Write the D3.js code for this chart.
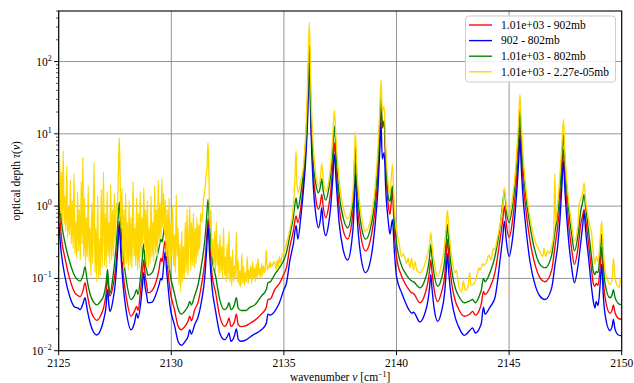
<!DOCTYPE html>
<html><head><meta charset="utf-8">
<script src="https://cdn.jsdelivr.net/npm/d3@7"></script>
<style>
html,body{margin:0;padding:0;background:#fff;}
</style></head>
<body><svg id="c" width="634" height="383" font-family="'Liberation Serif', 'DejaVu Serif', serif"></svg>
<script>
// ---------------- data ----------------
const legendLabels = ["1.01e+03 - 902mb", "902 - 802mb", "1.01e+03 - 802mb", "1.01e+03 - 2.27e-05mb"];
const xTicks = [2125, 2130, 2135, 2140, 2145, 2150];
const yTickExps = [-2, -1, 0, 1, 2];

// shared wavenumber grid for the three smoother layers
const nuMain = [
 2125.00,2125.10,2125.28,2125.50,2125.72,2125.85,2125.95,2126.08,2126.17,2126.26,
 2126.40,2126.55,2126.69,2126.85,2127.00,2127.10,2127.17,2127.23,2127.28,2127.40,
 2127.52,2127.62,2127.69,2127.76,2127.87,2128.00,2128.21,2128.36,2128.46,2128.52,
 2128.64,2128.72,2128.77,2128.84,2128.90,2128.96,2129.15,2129.30,2129.45,2129.54,
 2129.59,2129.66,2129.72,2129.80,2129.94,2130.15,2130.30,2130.44,2130.62,2130.75,
 2130.82,2130.89,2131.04,2131.20,2131.35,2131.48,2131.57,2131.63,2131.70,2131.80,
 2131.97,2132.15,2132.37,2132.50,2132.56,2132.65,2132.80,2132.89,2132.97,2133.10,
 2133.30,2133.50,2133.70,2134.00,2134.22,2134.29,2134.40,2134.59,2134.80,2135.00,
 2135.11,2135.27,2135.42,2135.54,2135.62,2135.75,2135.87,2135.97,2136.05,2136.13,
 2136.20,2136.30,2136.42,2136.53,2136.62,2136.68,2136.75,2136.86,2136.98,2137.08,
 2137.17,2137.24,2137.32,2137.45,2137.62,2137.83,2138.00,2138.10,2138.17,2138.25,
 2138.40,2138.63,2138.85,2139.05,2139.18,2139.26,2139.31,2139.37,2139.45,2139.53,
 2139.64,2139.71,2139.82,2139.90,2140.00,2140.23,2140.38,2140.55,2140.68,2140.75,
 2141.04,2141.26,2141.40,2141.47,2141.52,2141.58,2141.68,2141.83,2142.00,2142.14,
 2142.21,2142.26,2142.32,2142.45,2142.62,2142.75,2143.01,2143.25,2143.38,2143.50,
 2143.70,2143.77,2143.86,2143.93,2144.15,2144.37,2144.59,2144.72,2144.79,2144.88,
 2145.00,2145.15,2145.28,2145.38,2145.44,2145.48,2145.54,2145.62,2145.70,2145.93,
 2146.15,2146.35,2146.60,2146.89,2147.04,2147.15,2147.25,2147.34,2147.41,2147.48,
 2147.63,2147.78,2147.90,2148.07,2148.18,2148.27,2148.33,2148.40,2148.53,2148.65,
 2148.74,2148.81,2148.87,2148.95,2149.04,2149.11,2149.18,2149.26,2149.48,2149.58,
 2149.63,2149.70,2149.85,2150.00
];
// 1.01e+03 - 902mb (red)
const tauRed = [
 1.30,0.43,0.19,0.096,0.063,0.058,0.056,0.068,0.087,0.062,
 0.038,0.029,0.0263,0.030,0.040,0.060,0.107,0.065,0.057,0.075,
 0.13,0.32,0.62,0.30,0.11,0.055,0.030,0.035,0.041,0.036,
 0.070,0.12,0.18,0.11,0.085,0.063,0.068,0.085,0.13,0.19,
 0.17,0.25,0.33,0.18,0.070,0.036,0.022,0.0195,0.022,0.026,
 0.030,0.026,0.037,0.048,0.085,0.16,0.35,0.67,0.32,0.12,
 0.063,0.030,0.0217,0.025,0.0285,0.0217,0.025,0.032,0.023,0.0215,
 0.0220,0.024,0.0263,0.032,0.040,0.051,0.052,0.070,0.085,0.115,
 0.14,0.28,0.45,0.73,0.59,0.95,2.2,6,20,135,
 16,3,1.25,0.90,1.10,1.45,0.95,0.69,0.95,1.6,
 3.6,7.5,3.3,1.0,0.48,0.35,0.55,1.15,4.0,1.2,
 0.42,0.24,0.35,0.9,2.8,9,21.8,12,15,3.0,
 1.0,0.77,1.6,0.45,0.20,0.107,0.085,0.070,0.063,0.062,
 0.046,0.060,0.09,0.13,0.18,0.12,0.068,0.048,0.065,0.11,
 0.22,0.35,0.20,0.085,0.048,0.038,0.030,0.032,0.035,0.031,
 0.038,0.045,0.066,0.060,0.075,0.12,0.33,0.65,1.0,0.55,
 0.37,0.62,1.5,3.6,7.5,12.8,5.5,2.2,1.2,0.33,
 0.156,0.105,0.09,0.13,0.28,0.5,1.0,2.8,6.1,2.5,
 0.62,0.25,0.156,0.28,0.56,0.75,0.9,0.65,0.30,0.14,
 0.085,0.078,0.085,0.08,0.14,0.27,0.10,0.055,0.033,0.037,
 0.043,0.034,0.028,0.027
];
// 902 - 802mb (blue)
const tauBlue = [
 0.60,0.25,0.105,0.055,0.040,0.039,0.037,0.045,0.054,0.038,
 0.024,0.018,0.0165,0.019,0.027,0.040,0.070,0.042,0.035,0.048,
 0.090,0.25,0.55,0.22,0.075,0.035,0.0195,0.024,0.033,0.028,
 0.045,0.080,0.12,0.075,0.060,0.046,0.047,0.058,0.080,0.100,
 0.095,0.15,0.23,0.12,0.042,0.022,0.0135,0.0119,0.0135,0.016,
 0.0196,0.017,0.023,0.030,0.050,0.10,0.25,0.55,0.22,0.080,
 0.035,0.0176,0.0142,0.016,0.0176,0.0135,0.016,0.020,0.0145,0.0135,
 0.0140,0.0155,0.0170,0.0195,0.024,0.032,0.031,0.035,0.046,0.070,
 0.085,0.18,0.30,0.54,0.35,0.70,1.7,4.5,15,110,
 12,2.0,0.75,0.50,0.65,0.95,0.55,0.39,0.55,1.0,
 2.4,5.2,2.2,0.6,0.26,0.18,0.30,0.70,2.75,0.75,
 0.22,0.12,0.18,0.55,1.8,6,14.3,4.5,5.5,1.5,
 0.59,0.41,0.65,0.25,0.107,0.063,0.048,0.037,0.033,0.034,
 0.025,0.033,0.05,0.075,0.113,0.07,0.037,0.0255,0.035,0.065,
 0.13,0.22,0.12,0.05,0.028,0.0217,0.0163,0.019,0.0207,0.0176,
 0.021,0.0242,0.040,0.032,0.040,0.054,0.17,0.38,0.62,0.32,
 0.20,0.35,0.9,2.4,5,8.9,3.5,1.3,0.69,0.17,
 0.082,0.058,0.051,0.074,0.156,0.27,0.6,1.8,4.2,1.6,
 0.37,0.14,0.087,0.16,0.31,0.55,0.81,0.45,0.19,0.08,
 0.048,0.039,0.048,0.042,0.08,0.156,0.06,0.032,0.019,0.022,
 0.027,0.020,0.0165,0.016
];
// 1.01e+03 - 802mb (green)
const tauGreen = [
 2.30,0.73,0.31,0.165,0.107,0.095,0.092,0.11,0.145,0.095,
 0.060,0.047,0.043,0.048,0.058,0.085,0.133,0.075,0.062,0.100,
 0.22,0.55,1.14,0.50,0.20,0.095,0.051,0.058,0.070,0.060,
 0.11,0.20,0.30,0.16,0.133,0.11,0.12,0.165,0.26,0.35,
 0.32,0.43,0.56,0.30,0.12,0.060,0.038,0.032,0.036,0.042,
 0.048,0.043,0.058,0.085,0.16,0.32,0.70,1.24,0.55,0.20,
 0.107,0.051,0.037,0.041,0.046,0.037,0.043,0.054,0.039,0.036,
 0.036,0.040,0.043,0.057,0.070,0.087,0.09,0.113,0.14,0.18,
 0.226,0.40,0.70,1.30,0.92,1.5,3.0,8,28,170,
 20,4.2,2.0,1.53,1.85,2.4,1.6,1.21,1.65,2.7,
 6,12.8,5,1.5,0.72,0.50,0.78,1.7,6.8,1.9,
 0.62,0.35,0.50,1.3,4.5,15,35,13,15,4.0,
 1.3,1.17,1.9,0.65,0.31,0.148,0.120,0.100,0.092,0.090,
 0.074,0.095,0.14,0.20,0.295,0.19,0.11,0.078,0.10,0.18,
 0.35,0.56,0.32,0.13,0.072,0.058,0.046,0.049,0.051,0.046,
 0.060,0.070,0.10,0.090,0.12,0.20,0.50,1.1,1.65,0.85,
 0.59,1.0,2.4,6,12,21.8,9,3.5,1.8,0.53,
 0.24,0.16,0.14,0.21,0.45,0.75,1.6,4.5,9.8,4,
 1.0,0.40,0.24,0.42,0.85,1.15,1.45,0.95,0.45,0.21,
 0.125,0.113,0.125,0.12,0.22,0.41,0.16,0.085,0.054,0.060,
 0.070,0.055,0.045,0.043
];
// 1.01e+03 - 2.27e-05mb (gold)
const nuGold = [
 2125.00,2125.04,2125.08,2125.12,2125.16,2125.20,2125.24,2125.28,2125.32,2125.36,
 2125.40,2125.44,2125.48,2125.52,2125.56,2125.60,2125.64,2125.68,2125.72,2125.76,
 2125.80,2125.84,2125.88,2125.92,2125.96,2126.00,2126.04,2126.07,2126.11,2126.15,
 2126.19,2126.23,2126.27,2126.31,2126.35,2126.39,2126.43,2126.47,2126.51,2126.57,
 2126.61,2126.65,2126.69,2126.73,2126.77,2126.81,2126.85,2126.89,2126.93,2126.99,
 2127.03,2127.07,2127.11,2127.15,2127.19,2127.23,2127.27,2127.31,2127.35,2127.39,
 2127.43,2127.47,2127.51,2127.56,2127.60,2127.65,2127.69,2127.73,2127.77,2127.81,
 2127.85,2127.89,2127.93,2127.97,2128.01,2128.05,2128.09,2128.13,2128.17,2128.21,
 2128.25,2128.30,2128.34,2128.38,2128.42,2128.46,2128.50,2128.54,2128.58,2128.62,
 2128.66,2128.70,2128.74,2128.78,2128.82,2128.86,2128.90,2128.94,2128.98,2129.02,
 2129.06,2129.10,2129.14,2129.18,2129.22,2129.26,2129.30,2129.34,2129.38,2129.42,
 2129.46,2129.50,2129.54,2129.58,2129.62,2129.66,2129.70,2129.74,2129.78,2129.82,
 2129.86,2129.90,2129.94,2129.98,2130.02,2130.06,2130.10,2130.14,2130.18,2130.22,
 2130.26,2130.30,2130.34,2130.38,2130.42,2130.46,2130.50,2130.54,2130.58,2130.62,
 2130.66,2130.70,2130.74,2130.78,2130.82,2130.86,2130.90,2130.94,2130.98,2131.02,
 2131.06,2131.10,2131.14,2131.18,2131.22,2131.26,2131.30,2131.36,2131.42,2131.48,
 2131.54,2131.59,2131.63,2131.67,2131.72,2131.76,2131.80,2131.84,2131.88,2131.92,
 2131.96,2132.00,2132.04,2132.08,2132.12,2132.16,2132.20,2132.24,2132.28,2132.32,
 2132.36,2132.40,2132.44,2132.48,2132.52,2132.56,2132.60,2132.64,2132.68,2132.72,
 2132.76,2132.80,2132.84,2132.89,2132.93,2132.97,2133.01,2133.05,2133.09,2133.13,
 2133.17,2133.21,2133.25,2133.29,2133.33,2133.37,2133.41,2133.45,2133.49,2133.53,
 2133.57,2133.61,2133.65,2133.69,2133.73,2133.77,2133.81,2133.85,2133.89,2133.93,
 2133.97,2134.01,2134.05,2134.09,2134.13,2134.17,2134.22,2134.26,2134.30,2134.34,
 2134.38,2134.42,2134.46,2134.50,2134.55,2134.62,2134.66,2134.70,2134.75,2134.80,
 2134.86,2134.92,2135.00,2135.11,2135.27,2135.42,2135.49,2135.54,2135.58,2135.63,
 2135.75,2135.87,2135.97,2136.05,2136.13,2136.20,2136.30,2136.42,2136.53,2136.62,
 2136.68,2136.75,2136.86,2136.98,2137.08,2137.17,2137.24,2137.32,2137.45,2137.62,
 2137.83,2138.00,2138.10,2138.17,2138.25,2138.40,2138.63,2138.85,2139.05,2139.18,
 2139.26,2139.31,2139.37,2139.45,2139.53,2139.64,2139.71,2139.82,2139.90,2140.00,
 2140.12,2140.23,2140.30,2140.38,2140.45,2140.52,2140.60,2140.67,2140.75,2140.82,
 2140.90,2141.04,2141.20,2141.35,2141.47,2141.52,2141.58,2141.68,2141.83,2142.00,
 2142.14,2142.21,2142.26,2142.32,2142.45,2142.60,2142.66,2142.75,2142.90,2142.97,
 2143.05,2143.17,2143.25,2143.30,2143.45,2143.60,2143.66,2143.72,2143.83,2143.90,
 2144.00,2144.10,2144.20,2144.30,2144.37,2144.47,2144.60,2144.72,2144.79,2144.88,
 2145.00,2145.15,2145.28,2145.38,2145.44,2145.48,2145.54,2145.62,2145.70,2145.93,
 2146.15,2146.35,2146.50,2146.55,2146.62,2146.72,2146.80,2146.89,2146.98,2147.03,
 2147.07,2147.15,2147.25,2147.34,2147.41,2147.48,2147.63,2147.78,2147.90,2148.07,
 2148.12,2148.18,2148.27,2148.33,2148.40,2148.53,2148.60,2148.65,2148.74,2148.81,
 2148.87,2148.95,2149.04,2149.11,2149.18,2149.26,2149.35,2149.48,2149.58,2149.63,
 2149.70,2149.80,2149.90,2149.95,2150.00
];
const tauGold = [
 2.1,4.5,0.8,3.0,0.6,5.8,0.55,1.4,0.45,3.6,
 0.36,1.0,0.40,2.3,0.30,1.2,0.26,2.8,0.22,0.6,
 0.19,1.6,0.24,0.9,0.18,2.2,0.3,4.8,0.2,1.3,
 0.15,0.7,0.2,1.9,0.17,0.5,0.11,1.1,0.16,4.0,
 0.12,0.5,0.09,1.4,0.1,0.35,0.11,1.7,0.14,3.0,
 0.15,0.8,0.14,1.6,0.2,0.6,0.16,2.0,0.18,0.9,
 0.2,1.5,0.3,1.1,0.8,3.0,8.9,2.2,0.5,1.8,
 0.17,0.9,0.14,1.5,0.16,0.6,0.13,1.2,0.15,0.7,
 0.14,2.2,0.2,0.5,0.15,1.3,0.13,0.8,0.14,1.6,
 0.2,0.7,0.3,1.8,0.25,0.9,0.15,1.2,0.14,0.5,
 0.16,1.4,0.2,0.6,0.17,1.9,0.22,0.9,0.2,2.3,
 0.3,1.1,0.35,2.4,0.5,1.5,0.4,1.2,0.2,0.9,
 0.15,1.3,0.13,0.6,0.2,1.0,0.15,0.4,0.12,1.45,
 0.2,0.5,0.08,0.3,0.065,0.45,0.09,0.28,0.1,0.6,
 0.12,0.9,0.11,0.35,1.0,0.13,0.6,0.15,0.8,0.14,
 0.5,0.16,0.7,0.2,0.55,0.25,0.8,0.6,1.2,1.6,
 2.5,3.5,7.5,2.8,0.5,0.9,0.2,0.35,0.14,0.45,
 0.12,0.6,0.15,0.3,0.11,0.4,0.12,0.28,0.1,0.5,
 0.11,0.2,0.09,0.3,0.1,0.45,0.09,0.2,0.08,0.25,
 0.09,0.15,0.1,0.43,0.09,0.18,0.08,0.13,0.075,0.22,
 0.085,0.15,0.08,0.12,0.09,0.2,0.085,0.13,0.1,0.15,
 0.085,0.17,0.1,0.14,0.09,0.16,0.1,0.19,0.11,0.14,
 0.1,0.16,0.11,0.15,0.12,0.14,0.25,0.13,0.15,0.14,
 0.17,0.14,0.16,0.15,0.17,0.16,0.13,0.18,0.14,0.2,
 0.16,0.21,0.23,0.3,0.48,1.0,2.4,5.8,2.0,1.53,
 2.2,3.6,10,45,350,40,7,2.7,1.9,2.5,
 3.9,2.3,1.6,2.1,3.8,9,21,8,2.3,1.0,
 0.67,1.0,2.4,10.6,2.8,0.9,0.45,0.65,1.8,6.5,
 22,55,20,24,6,1.9,1.5,3.8,1.0,0.48,
 0.3,0.2,0.22,0.19,0.16,0.19,0.14,0.19,0.13,0.17,
 0.13,0.12,0.14,0.2,0.3,0.43,0.28,0.16,0.107,0.16,
 0.3,0.55,0.88,0.5,0.2,0.12,0.13,0.085,0.065,0.092,
 0.068,0.075,0.12,0.08,0.085,0.12,0.14,0.13,0.16,0.15,
 0.17,0.21,0.18,0.26,0.25,0.35,0.55,1.0,1.8,1.0,
 0.73,1.3,3,9,20,35,14,5,2.4,0.69,
 0.33,0.24,0.2,0.26,0.2,0.24,0.22,0.28,0.4,2.8,
 0.6,1.0,2.5,6.5,15.8,5,1.3,0.55,0.33,0.6,
 1.1,1.24,1.5,2.1,1.2,0.65,0.5,0.45,0.22,0.156,
 0.2,0.17,0.33,0.62,0.25,0.13,0.1,0.082,0.1,0.19,
 0.1,0.08,0.075,0.1,0.085
];

// ---------------- drawing ----------------
const FONT = "'Liberation Serif', 'DejaVu Serif', serif";
const svg = d3.select("#c");
const W = 634, H = 383;
const m = {l: 58.7, r: 621.7, t: 11, b: 350.7};
const x = d3.scaleLinear().domain([2125, 2150]).range([m.l, m.r]);
const y = d3.scaleLog().domain([0.01, 500]).range([m.b, m.t]);

svg.append("rect").attr("width", W).attr("height", H).attr("fill", "#fff");

svg.append("defs").append("clipPath").attr("id", "clip")
  .append("rect").attr("x", m.l).attr("y", m.t).attr("width", m.r - m.l).attr("height", m.b - m.t);

// grid
const grid = svg.append("g").attr("stroke", "#8a8a8a").attr("stroke-width", 0.9);
xTicks.forEach(v => grid.append("line").attr("x1", x(v)).attr("x2", x(v)).attr("y1", m.t).attr("y2", m.b));
yTickExps.forEach(e => grid.append("line").attr("x1", m.l).attr("x2", m.r).attr("y1", y(Math.pow(10, e))).attr("y2", y(Math.pow(10, e))));

// series
const line = d3.line().x(d => x(d[0])).y(d => y(d[1])).curve(d3.curveMonotoneX);
const plot = svg.append("g").attr("clip-path", "url(#clip)");
const series = [
  {nu: nuMain, tau: tauRed, color: "#ff0000"},
  {nu: nuMain, tau: tauBlue, color: "#0000ff"},
  {nu: nuMain, tau: tauGreen, color: "#008000"},
  {nu: nuGold, tau: tauGold, color: "#ffd700"}
];
series.forEach(s => {
  const pts = s.nu.map((v, i) => [v, s.tau[i]]);
  plot.append("path").attr("d", line(pts)).attr("fill", "none")
    .attr("stroke", s.color).attr("stroke-width", 1.35).attr("stroke-linejoin", "round");
});

// frame
svg.append("rect").attr("x", m.l).attr("y", m.t).attr("width", m.r - m.l).attr("height", m.b - m.t)
  .attr("fill", "none").attr("stroke", "#000").attr("stroke-width", 1.1);

// x ticks
const axg = svg.append("g").attr("font-family", FONT);
xTicks.forEach(v => {
  axg.append("line").attr("x1", x(v)).attr("x2", x(v)).attr("y1", m.b).attr("y2", m.b + 4.5).attr("stroke", "#000").attr("stroke-width", 1);
  axg.append("text").attr("x", x(v)).attr("y", m.b + 16).attr("text-anchor", "middle").attr("font-size", 11.5).attr("font-family", FONT).text(v);
});
// y ticks (major + log minor)
yTickExps.forEach(e => {
  const yy = y(Math.pow(10, e));
  axg.append("line").attr("x1", m.l - 4.5).attr("x2", m.l).attr("y1", yy).attr("y2", yy).attr("stroke", "#000").attr("stroke-width", 1);
  const t = axg.append("text").attr("x", m.l - 7).attr("y", yy + 4).attr("text-anchor", "end").attr("font-size", 11.5).attr("font-family", FONT);
  t.append("tspan").text("10");
  t.append("tspan").attr("dy", -5).attr("font-size", 8).text(e < 0 ? "\u2212" + (-e) : String(e));
});
for (let e = -2; e <= 2; e++) {
  for (let k = 2; k <= 9; k++) {
    const v = k * Math.pow(10, e);
    if (v > 500) continue;
    axg.append("line").attr("x1", m.l - 2.6).attr("x2", m.l).attr("y1", y(v)).attr("y2", y(v)).attr("stroke", "#000").attr("stroke-width", 0.7);
  }
}

// axis labels
const xl = svg.append("text").attr("x", (m.l + m.r) / 2).attr("y", 380.5).attr("text-anchor", "middle")
  .attr("font-size", 11.5).attr("font-family", FONT);
xl.append("tspan").text("wavenumber ");
xl.append("tspan").attr("font-style", "italic").text("\u03bd");
xl.append("tspan").text(" [cm");
xl.append("tspan").attr("dy", -4).attr("font-size", 8).text("\u22121");
xl.append("tspan").attr("dy", 4).text("]");

const yl = svg.append("text").attr("transform", `translate(19.5,${(m.t + m.b) / 2}) rotate(-90)`)
  .attr("text-anchor", "middle").attr("font-size", 11.5).attr("font-family", FONT);
yl.append("tspan").text("optical depth ");
yl.append("tspan").attr("font-style", "italic").text("\u03c4");
yl.append("tspan").text("(");
yl.append("tspan").attr("font-style", "italic").text("\u03bd");
yl.append("tspan").text(")");

// legend
const lg = svg.append("g");
lg.append("rect").attr("x", 465.5).attr("y", 16).attr("width", 150).attr("height", 66).attr("rx", 3)
  .attr("fill", "#fff").attr("fill-opacity", 0.85).attr("stroke", "#cccccc").attr("stroke-width", 1);
legendLabels.forEach((lab, i) => {
  const yy = 25 + i * 15.6;
  lg.append("line").attr("x1", 469).attr("x2", 492).attr("y1", yy).attr("y2", yy)
    .attr("stroke", series[i].color).attr("stroke-width", 1.35);
  lg.append("text").attr("x", 501).attr("y", yy + 3.8).attr("font-size", 11.5).attr("font-family", FONT).text(lab);
});
</script></body></html>
